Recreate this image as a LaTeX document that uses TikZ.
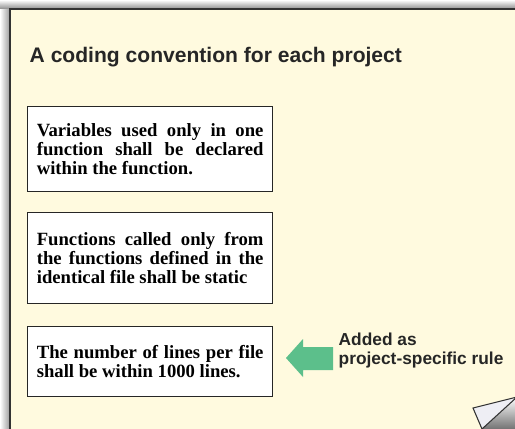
\documentclass[tikz,border=0pt]{standalone}
\usepackage{fontspec}
\setmainfont{Liberation Serif}
\setsansfont{Liberation Sans}
\usepackage{tikz}
\hyphenpenalty=10000

\definecolor{pagefill}{HTML}{FFFADF}
\definecolor{rulegreen}{HTML}{5CBF8B}
\definecolor{curlfill}{HTML}{EEEEF4}

\begin{document}
\begin{tikzpicture}[x=0.75pt,y=-0.75pt,
  rulebox/.style={draw=black!85,line width=1pt,fill=white,text width=170pt,
    minimum width=183.75pt,inner sep=6.75pt,align=justify,
    font=\fontsize{14}{14.25}\selectfont\bfseries},
  heading/.style={font=\fontsize{15.8}{17}\selectfont\sffamily\bfseries,text=black!85},
  note/.style={font=\fontsize{13}{14.25}\selectfont\sffamily\bfseries,text=black!85,align=left}]
\useasboundingbox (0,0) rectangle (515,429);

% page with shadow
\shade[top color=white,bottom color=black!45] (0,0) rectangle (515,9);
\shade[left color=white,right color=black!40] (0,9) rectangle (10,429);
\fill[pagefill] (10,9) rectangle (515,429);
\draw[black!80,line width=1.5pt] (10,429) -- (10,9) -- (515,9);

\node[heading,anchor=base west] (title) at (25,62) {A coding convention for each project};

\node[rulebox,minimum height=63.75pt,anchor=north west] (r1) at (27,106)
  {Variables used only in one function shall be declared within the function.};
\node[rulebox,minimum height=68.25pt,anchor=north west] (r2) at (27,212)
  {Functions called only from the functions defined in the identical file shall be static};
\node[rulebox,minimum height=52.5pt,anchor=north west] (r3) at (27,326)
  {The number of lines per file shall be within 1000 lines.};

% arrow and note
\fill[rulegreen] (286,358) -- (303,339) -- (303,347) -- (333,347) -- (333,370)
  -- (303,370) -- (303,377) -- cycle;
\node[note,anchor=base west] (added) at (334,364) {Added as\\project-specific rule};

% curled corner
\shade[shading=axis,shading angle=45,top color=white,bottom color=black!55]
  (482,429) -- (517,397) -- (517,429) -- cycle;
\draw[draw=black!80,fill=curlfill,line width=0.8pt] (473,408) -- (517,397) -- (482,429) -- cycle;

\end{tikzpicture}
\end{document}
